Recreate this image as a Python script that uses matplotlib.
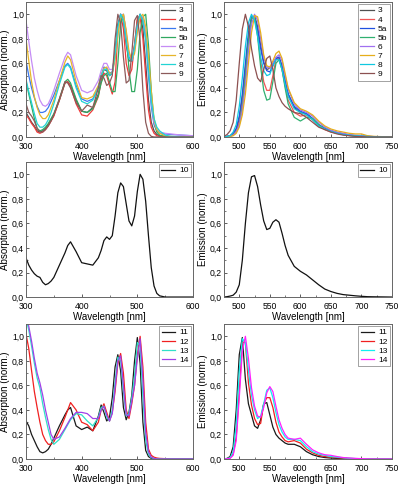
import matplotlib
matplotlib.use("Agg")
import matplotlib.pyplot as plt
from matplotlib.ticker import FuncFormatter, MultipleLocator

plt.rcParams['font.family'] = ['Liberation Sans', 'DejaVu Sans']

# ---------------- data ----------------
wl_abs = [300, 305, 310, 315, 320, 325, 330, 335, 340, 345, 350, 360, 370, 375, 380, 390,
          400, 410, 420, 430, 435, 440, 445, 450, 455, 460, 465, 470, 475, 480, 485, 490,
          495, 500, 505, 510, 515, 520, 525, 530, 535, 540, 550, 560, 580, 600]
wl_em = [475, 480, 485, 490, 495, 500, 505, 510, 515, 520, 525, 530, 535, 540, 545, 550,
         555, 560, 565, 570, 575, 580, 590, 600, 610, 620, 630, 640, 650, 660, 670, 680,
         690, 700, 710, 720, 750]

abs_3 = [0.20, 0.16, 0.12, 0.09, 0.05, 0.04, 0.05, 0.07, 0.10, 0.14, 0.18, 0.30, 0.44, 0.45, 0.42, 0.30,
         0.21, 0.20, 0.24, 0.35, 0.47, 0.55, 0.54, 0.50, 0.52, 0.70, 0.92, 1.00, 0.95, 0.75, 0.62, 0.62,
         0.75, 0.95, 1.00, 0.88, 0.60, 0.30, 0.12, 0.05, 0.02, 0.01, 0.005, 0, 0, 0]
abs_4 = [0.18, 0.15, 0.11, 0.08, 0.04, 0.03, 0.04, 0.06, 0.09, 0.13, 0.17, 0.30, 0.44, 0.45, 0.41, 0.27,
         0.18, 0.17, 0.22, 0.33, 0.45, 0.52, 0.50, 0.42, 0.35, 0.45, 0.85, 1.00, 0.88, 0.60, 0.50, 0.55,
         0.75, 0.97, 0.98, 0.80, 0.50, 0.22, 0.08, 0.03, 0.01, 0.005, 0, 0, 0, 0]
abs_5a = [0.62, 0.50, 0.40, 0.32, 0.25, 0.20, 0.20, 0.21, 0.24, 0.29, 0.34, 0.46, 0.58, 0.60, 0.57, 0.42,
          0.31, 0.29, 0.31, 0.40, 0.50, 0.57, 0.56, 0.52, 0.53, 0.66, 0.88, 1.00, 0.97, 0.80, 0.65, 0.62,
          0.72, 0.90, 1.00, 0.95, 0.80, 0.50, 0.25, 0.10, 0.05, 0.035, 0.025, 0.02, 0.015, 0.01]
abs_5b = [0.45, 0.35, 0.25, 0.15, 0.07, 0.05, 0.06, 0.08, 0.11, 0.15, 0.19, 0.31, 0.45, 0.47, 0.44, 0.31,
          0.21, 0.20, 0.23, 0.34, 0.44, 0.50, 0.52, 0.45, 0.37, 0.37, 0.60, 0.92, 1.00, 0.85, 0.55, 0.37,
          0.37, 0.55, 0.85, 0.98, 1.00, 0.75, 0.38, 0.12, 0.04, 0.015, 0.005, 0, 0, 0]
abs_6 = [0.95, 0.78, 0.62, 0.48, 0.38, 0.30, 0.26, 0.25, 0.27, 0.32, 0.38, 0.52, 0.65, 0.69, 0.67, 0.50,
         0.38, 0.36, 0.38, 0.46, 0.54, 0.60, 0.60, 0.55, 0.55, 0.66, 0.86, 0.99, 1.00, 0.85, 0.68, 0.63,
         0.70, 0.87, 0.99, 0.98, 0.85, 0.58, 0.30, 0.12, 0.06, 0.04, 0.03, 0.025, 0.015, 0.01]
abs_7 = [0.80, 0.62, 0.45, 0.33, 0.24, 0.18, 0.15, 0.15, 0.18, 0.24, 0.30, 0.46, 0.61, 0.66, 0.63, 0.45,
         0.32, 0.31, 0.33, 0.42, 0.50, 0.56, 0.57, 0.52, 0.52, 0.63, 0.83, 0.97, 1.00, 0.87, 0.70, 0.63,
         0.68, 0.85, 0.98, 1.00, 0.90, 0.66, 0.38, 0.15, 0.06, 0.03, 0.01, 0.005, 0, 0]
abs_8 = [0.47, 0.37, 0.28, 0.19, 0.11, 0.08, 0.08, 0.10, 0.14, 0.20, 0.27, 0.43, 0.57, 0.59, 0.56, 0.40,
         0.29, 0.27, 0.30, 0.40, 0.50, 0.55, 0.55, 0.50, 0.52, 0.67, 0.90, 1.00, 0.95, 0.78, 0.64, 0.62,
         0.73, 0.92, 1.00, 0.95, 0.80, 0.55, 0.30, 0.15, 0.08, 0.05, 0.015, 0.005, 0, 0]
abs_9 = [0.27, 0.20, 0.17, 0.13, 0.07, 0.04, 0.04, 0.06, 0.09, 0.13, 0.18, 0.31, 0.45, 0.44, 0.40, 0.28,
         0.21, 0.26, 0.24, 0.40, 0.50, 0.48, 0.42, 0.44, 0.50, 0.80, 1.00, 0.93, 0.65, 0.44, 0.46, 0.68,
         0.95, 0.99, 0.78, 0.38, 0.12, 0.03, 0.005, 0, 0, 0, 0, 0, 0, 0]

em_3 = [0, 0.005, 0.01, 0.025, 0.06, 0.15, 0.32, 0.55, 0.80, 0.96, 0.99, 0.90, 0.75, 0.61, 0.55, 0.56,
        0.60, 0.64, 0.65, 0.58, 0.46, 0.35, 0.24, 0.20, 0.19, 0.15, 0.10, 0.07, 0.05, 0.035, 0.025, 0.015,
        0.01, 0.008, 0.004, 0.002, 0]
em_4 = [0, 0, 0.01, 0.02, 0.05, 0.12, 0.28, 0.52, 0.80, 0.97, 0.98, 0.85, 0.62, 0.45, 0.38, 0.38,
        0.50, 0.63, 0.64, 0.55, 0.42, 0.30, 0.20, 0.17, 0.18, 0.14, 0.09, 0.06, 0.04, 0.03, 0.02, 0.012,
        0.008, 0.005, 0.003, 0, 0]
em_5a = [0, 0.005, 0.01, 0.03, 0.07, 0.17, 0.35, 0.60, 0.85, 0.98, 0.98, 0.88, 0.72, 0.60, 0.54, 0.53,
         0.58, 0.64, 0.65, 0.58, 0.46, 0.35, 0.25, 0.21, 0.19, 0.15, 0.10, 0.07, 0.05, 0.035, 0.025, 0.015,
         0.01, 0.01, 0.005, 0.003, 0]
em_5b = [0, 0, 0.005, 0.015, 0.04, 0.10, 0.25, 0.48, 0.78, 0.97, 0.98, 0.82, 0.57, 0.38, 0.30, 0.31,
         0.45, 0.60, 0.63, 0.55, 0.40, 0.27, 0.16, 0.13, 0.16, 0.15, 0.10, 0.065, 0.045, 0.03, 0.02, 0.012,
         0.008, 0.005, 0.003, 0, 0]
em_6 = [0, 0, 0.005, 0.015, 0.04, 0.10, 0.22, 0.42, 0.70, 0.92, 1.00, 0.95, 0.80, 0.65, 0.57, 0.56,
        0.60, 0.65, 0.67, 0.62, 0.50, 0.39, 0.27, 0.22, 0.20, 0.17, 0.12, 0.08, 0.055, 0.04, 0.03, 0.02,
        0.015, 0.012, 0.006, 0.003, 0]
em_7 = [0, 0, 0.005, 0.01, 0.03, 0.08, 0.18, 0.35, 0.60, 0.85, 0.99, 0.98, 0.85, 0.67, 0.58, 0.57,
        0.62, 0.68, 0.70, 0.64, 0.52, 0.40, 0.28, 0.23, 0.21, 0.18, 0.13, 0.09, 0.065, 0.05, 0.04, 0.03,
        0.025, 0.025, 0.01, 0.005, 0]
em_8 = [0, 0.005, 0.01, 0.04, 0.10, 0.25, 0.48, 0.74, 0.93, 1.00, 0.95, 0.82, 0.65, 0.54, 0.50, 0.51,
        0.58, 0.63, 0.63, 0.55, 0.43, 0.33, 0.23, 0.20, 0.18, 0.14, 0.09, 0.065, 0.045, 0.03, 0.02, 0.015,
        0.01, 0.008, 0.004, 0.002, 0]
em_9 = [0.005, 0.02, 0.05, 0.12, 0.30, 0.60, 0.88, 1.00, 0.90, 0.72, 0.58, 0.48, 0.45, 0.55, 0.64, 0.66,
        0.55, 0.40, 0.33, 0.28, 0.25, 0.23, 0.20, 0.19, 0.16, 0.12, 0.08, 0.06, 0.04, 0.025, 0.015, 0.01,
        0.005, 0.003, 0, 0, 0]

abs_10 = [0.32, 0.26, 0.22, 0.19, 0.17, 0.16, 0.12, 0.10, 0.11, 0.13, 0.16, 0.26, 0.36, 0.42, 0.45, 0.37,
          0.28, 0.27, 0.26, 0.32, 0.38, 0.46, 0.49, 0.47, 0.50, 0.66, 0.85, 0.93, 0.90, 0.76, 0.62, 0.58,
          0.66, 0.86, 1.00, 0.96, 0.78, 0.50, 0.24, 0.09, 0.03, 0.01, 0, 0, 0, 0]
em_10 = [0, 0.003, 0.008, 0.015, 0.04, 0.10, 0.30, 0.60, 0.85, 0.98, 0.99, 0.90, 0.75, 0.62, 0.55, 0.56,
         0.61, 0.63, 0.61, 0.52, 0.42, 0.34, 0.25, 0.21, 0.18, 0.14, 0.10, 0.065, 0.045, 0.03, 0.02, 0.015,
         0.01, 0.006, 0.003, 0.002, 0]

abs_11 = [0.31, 0.27, 0.20, 0.15, 0.10, 0.06, 0.05, 0.06, 0.08, 0.12, 0.17, 0.27, 0.36, 0.40, 0.42, 0.27,
          0.24, 0.26, 0.23, 0.35, 0.44, 0.38, 0.31, 0.34, 0.50, 0.75, 0.85, 0.72, 0.42, 0.32, 0.38, 0.52,
          0.80, 0.99, 0.78, 0.30, 0.07, 0.02, 0.005, 0, 0, 0, 0, 0, 0, 0]
abs_12 = [1.02, 0.90, 0.72, 0.55, 0.42, 0.30, 0.20, 0.15, 0.12, 0.12, 0.14, 0.23, 0.34, 0.40, 0.46, 0.40,
          0.30, 0.28, 0.23, 0.30, 0.40, 0.45, 0.38, 0.31, 0.38, 0.55, 0.78, 0.86, 0.70, 0.40, 0.33, 0.45,
          0.60, 0.85, 1.00, 0.75, 0.30, 0.08, 0.03, 0.015, 0.008, 0.005, 0.003, 0, 0, 0]
abs_13 = [1.15, 1.05, 0.92, 0.78, 0.66, 0.58, 0.45, 0.34, 0.24, 0.16, 0.12, 0.16, 0.24, 0.28, 0.32, 0.37,
          0.36, 0.31, 0.27, 0.34, 0.42, 0.43, 0.34, 0.31, 0.40, 0.63, 0.83, 0.80, 0.55, 0.35, 0.37, 0.50,
          0.68, 0.95, 0.92, 0.50, 0.15, 0.04, 0.01, 0.005, 0, 0, 0, 0, 0, 0]
abs_14 = [1.18, 1.08, 0.96, 0.82, 0.70, 0.62, 0.52, 0.40, 0.30, 0.20, 0.16, 0.18, 0.25, 0.29, 0.33, 0.38,
          0.38, 0.37, 0.33, 0.33, 0.40, 0.43, 0.36, 0.31, 0.37, 0.58, 0.80, 0.84, 0.60, 0.36, 0.35, 0.47,
          0.60, 0.82, 0.98, 0.65, 0.22, 0.06, 0.015, 0.005, 0, 0, 0, 0, 0, 0]

em_11 = [0, 0.005, 0.02, 0.10, 0.40, 0.85, 0.99, 0.65, 0.45, 0.36, 0.27, 0.25, 0.32, 0.45, 0.46, 0.36,
         0.26, 0.20, 0.17, 0.15, 0.13, 0.12, 0.12, 0.10, 0.06, 0.035, 0.02, 0.012, 0.008, 0.005, 0.003, 0,
         0, 0, 0, 0, 0]
em_12 = [0, 0.002, 0.008, 0.04, 0.18, 0.55, 0.95, 0.95, 0.62, 0.44, 0.33, 0.28, 0.29, 0.45, 0.50, 0.50,
         0.42, 0.30, 0.22, 0.18, 0.15, 0.14, 0.15, 0.13, 0.08, 0.05, 0.03, 0.02, 0.015, 0.01, 0.007, 0.005,
         0.003, 0, 0, 0, 0]
em_13 = [0, 0.003, 0.01, 0.06, 0.28, 0.72, 0.98, 0.95, 0.72, 0.52, 0.40, 0.33, 0.35, 0.45, 0.56, 0.58,
         0.50, 0.38, 0.28, 0.22, 0.18, 0.16, 0.16, 0.15, 0.10, 0.06, 0.04, 0.03, 0.02, 0.015, 0.01, 0.006,
         0.004, 0.002, 0, 0, 0]
em_14 = [0, 0.002, 0.006, 0.03, 0.15, 0.50, 0.88, 1.00, 0.82, 0.58, 0.43, 0.35, 0.34, 0.42, 0.54, 0.59,
         0.55, 0.43, 0.32, 0.25, 0.20, 0.17, 0.16, 0.17, 0.12, 0.075, 0.05, 0.035, 0.03, 0.02, 0.012, 0.008,
         0.005, 0.003, 0.001, 0, 0]

labels_top = ['3', '4', '5a', '5b', '6', '7', '8', '9']
abs_top = [abs_3, abs_4, abs_5a, abs_5b, abs_6, abs_7, abs_8, abs_9]
em_top = [em_3, em_4, em_5a, em_5b, em_6, em_7, em_8, em_9]
labels_bot = ['11', '12', '13', '14']
abs_bot = [abs_11, abs_12, abs_13, abs_14]
em_bot = [em_11, em_12, em_13, em_14]

# ---------------- style ----------------
col_top_abs = ['#505050', '#f03a3a', '#3a78f0', '#30a860', '#c58cf5', '#e6b52a', '#22d4d4', '#8c5a5a']
col_top_em = ['#505050', '#f05555', '#2050e0', '#30b070', '#a070f0', '#e6ae1a', '#10c8e0', '#8c5050']
col_bot_abs = ['#1a1a1a', '#f02020', '#30e0c8', '#a040e8']
col_bot_em = ['#1a1a1a', '#f02020', '#10f0f0', '#ff20ff']

fig = plt.figure(figsize=(4.0, 4.88), dpi=100)
lw = 0.9
fs_tick = 6.2
fs_lab = 7.0
fs_leg = 6.0
comma = FuncFormatter(lambda v, p: ('%.1f' % v).replace('.', ','))

rows = [0.7193, 0.3913, 0.0594]
h = 0.2766


def style(ax, kind):
    if kind == 'abs':
        ax.set_xlim(300, 600)
        ax.xaxis.set_major_locator(MultipleLocator(100))
        ax.xaxis.set_minor_locator(MultipleLocator(50))
        ax.set_ylabel('Absorption (norm.)', fontsize=fs_lab, labelpad=1.5)
    else:
        ax.set_xlim(475, 750)
        ax.xaxis.set_major_locator(MultipleLocator(50))
        ax.xaxis.set_minor_locator(MultipleLocator(25))
        ax.set_ylabel('Emission (norm.)', fontsize=fs_lab, labelpad=1.5)
    ax.set_ylim(0, 1.1)
    ax.yaxis.set_major_locator(MultipleLocator(0.2))
    ax.yaxis.set_minor_locator(MultipleLocator(0.1))
    ax.yaxis.set_major_formatter(comma)
    ax.set_xlabel('Wavelength [nm]', fontsize=fs_lab, labelpad=1.0)
    ax.tick_params(which='both', direction='in', labelsize=fs_tick, color='#444444')
    ax.tick_params(axis='x', pad=3.5)
    ax.tick_params(axis='y', pad=1.5)
    ax.tick_params(which='major', length=2.5, width=0.6)
    ax.tick_params(which='minor', length=1.5, width=0.5)
    for s in ax.spines.values():
        s.set_color('#666666')
        s.set_linewidth(0.7)


def legend(ax):
    leg = ax.legend(loc='upper right', fontsize=fs_leg, frameon=True, fancybox=False,
                    edgecolor='#777777', handlelength=1.6, handletextpad=0.5,
                    borderpad=0.3, labelspacing=0.15, borderaxespad=0.25)
    leg.get_frame().set_linewidth(0.6)


# top row
ax = fig.add_axes([0.065, rows[0], 0.4175, h])
for lab, y, c in zip(labels_top, abs_top, col_top_abs):
    ax.plot(wl_abs, y, color=c, lw=lw, label=lab)
style(ax, 'abs')
legend(ax)

ax = fig.add_axes([0.56, rows[0], 0.42, h])
for lab, y, c in zip(labels_top, em_top, col_top_em):
    ax.plot(wl_em, y, color=c, lw=lw, label=lab)
style(ax, 'em')
legend(ax)

# middle row
ax = fig.add_axes([0.065, rows[1], 0.4175, h])
ax.plot(wl_abs, abs_10, color='#111111', lw=lw, label='10')
style(ax, 'abs')
legend(ax)

ax = fig.add_axes([0.56, rows[1], 0.42, h])
ax.plot(wl_em, em_10, color='#111111', lw=lw, label='10')
style(ax, 'em')
legend(ax)

# bottom row
ax = fig.add_axes([0.065, rows[2], 0.4175, h])
for lab, y, c in zip(labels_bot, abs_bot, col_bot_abs):
    ax.plot(wl_abs, y, color=c, lw=lw, label=lab)
style(ax, 'abs')
legend(ax)

ax = fig.add_axes([0.56, rows[2], 0.42, h])
for lab, y, c in zip(labels_bot, em_bot, col_bot_em):
    ax.plot(wl_em, y, color=c, lw=lw, label=lab)
style(ax, 'em')
legend(ax)

fig.savefig('out.png', dpi=100)
